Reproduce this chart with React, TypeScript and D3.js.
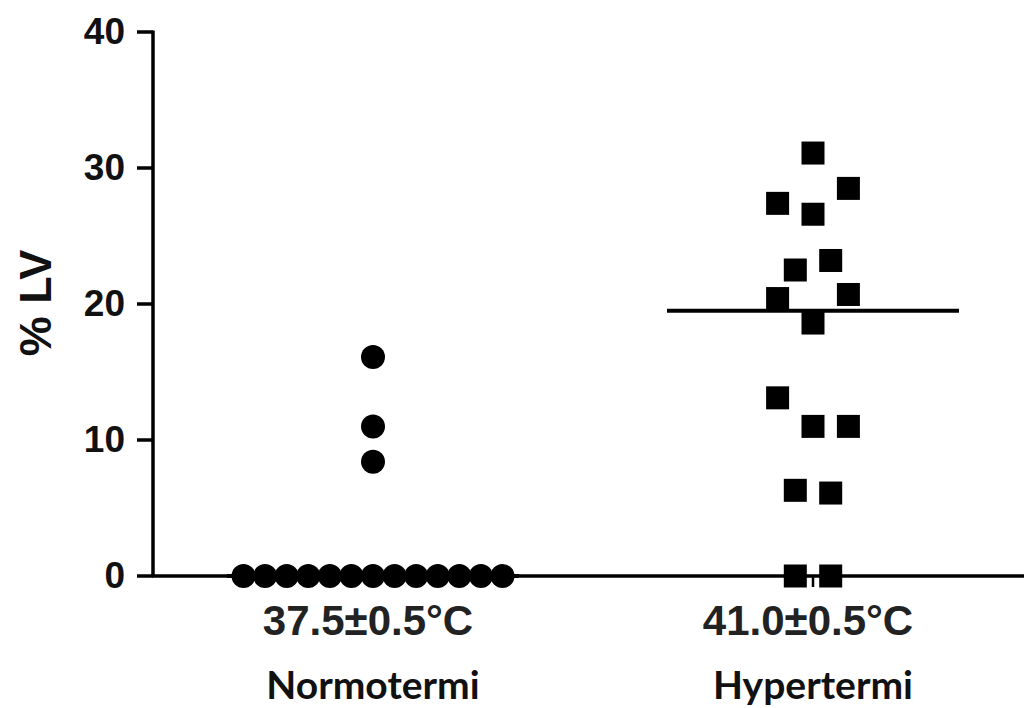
import * as d3 from 'd3';
import React from 'react';

// group names, temperature sub-labels, and y ticks
const groups = ['Normotermi', 'Hypertermi'];
const temps = ['37.5±0.5°C', '41.0±0.5°C'];
const yTicks = [0, 10, 20, 30, 40];

// %LV per animal, in data-entry order
const normotermi = [0, 0, 0, 0, 0, 0, 0, 0, 0, 0, 0, 0, 0, 16.1, 11.0, 8.4];
const hypertermi = [31.1, 27.4, 26.6, 28.5, 22.5, 23.2, 20.4, 18.6, 20.7, 13.1, 11.0, 11.0, 6.3, 6.1, 0, 0];

const W = 1024;
const H = 708;

const y = d3.scaleLinear().domain([0, 40]).range([576, 32]);
const x = d3.scaleBand().domain(groups).range([153, 1033]);

// GraphPad-ish column scatter: rows of close values spread around the center
function scatter(values: number[]) {
  const order = d3.range(values.length).sort((a, b) => values[b] - values[a] || a - b);
  const rows: number[][] = [];
  let start = -Infinity;
  order.forEach(i => {
    const py = y(values[i]);
    if (!rows.length || py - start > 30) {
      rows.push([i]);
      start = py;
    } else rows[rows.length - 1].push(i);
  });
  const offs = new Array(values.length).fill(0);
  rows.forEach(r => {
    r.sort((a, b) => a - b);
    const n = r.length;
    const step = n > 1 ? Math.min(35.4, 259 / (n - 1)) : 0;
    r.forEach((i, k) => { offs[i] = (k - (n - 1) / 2) * step; });
  });
  return offs;
}

export default function App() {
  const cx = (g: string) => (x(g) as number) + x.bandwidth() / 2;
  const nOff = scatter(normotermi);
  const hOff = scatter(hypertermi);
  const sets = [normotermi, hypertermi];
  const sq = 23;

  return (
    <svg width={W} height={H} style={{ position: 'absolute', left: 0, top: 0, background: '#fff' }}>
      {/* y axis */}
      <line x1={153} x2={153} y1={y(40) - 1.5} y2={y(0)} stroke="#000" strokeWidth={3.5} />
      {yTicks.map(t => (
        <g key={t}>
          <line x1={137} x2={153} y1={y(t)} y2={y(t)} stroke="#000" strokeWidth={3.5} />
          <text x={125} y={y(t) + 12} textAnchor="end" fontFamily="Liberation Sans, Arial" fontWeight="bold" fontSize={37} fill="#111">{t}</text>
        </g>
      ))}
      <text transform={`translate(51,${303}) rotate(-90)`} textAnchor="middle" fontFamily="Liberation Sans, Arial" fontWeight="bold" fontSize={45} fill="#111">% LV</text>

      {/* x axis */}
      <line x1={152} x2={W} y1={y(0)} y2={y(0)} stroke="#000" strokeWidth={3.5} />
      {groups.map((g, i) => (
        <g key={g}>
          <line x1={cx(g)} x2={cx(g)} y1={y(0)} y2={y(0) + 11} stroke="#000" strokeWidth={2.5} />
          <text x={cx(g) - 5} y={635} textAnchor="middle" fontFamily="Liberation Sans, Arial" fontWeight="bold" fontSize={42} fill="#222">{temps[i]}</text>
          <text x={cx(g)} y={699} textAnchor="middle" fontFamily="Lato" fontWeight="bold" fontSize={39} fill="#111">{g}</text>
          {/* median */}
          <line x1={cx(g) - 146} x2={cx(g) + 146} y1={y(d3.median(sets[i]) as number)} y2={y(d3.median(sets[i]) as number)} stroke="#000" strokeWidth={4} />
        </g>
      ))}

      {normotermi.map((v, i) => (
        <circle key={'n' + i} cx={cx(groups[0]) + nOff[i]} cy={y(v)} r={12} fill="#000" />
      ))}
      {hypertermi.map((v, i) => (
        <rect key={'h' + i} x={cx(groups[1]) + hOff[i] - sq / 2} y={y(v) - sq / 2} width={sq} height={sq} fill="#000" />
      ))}
    </svg>
  );
}
